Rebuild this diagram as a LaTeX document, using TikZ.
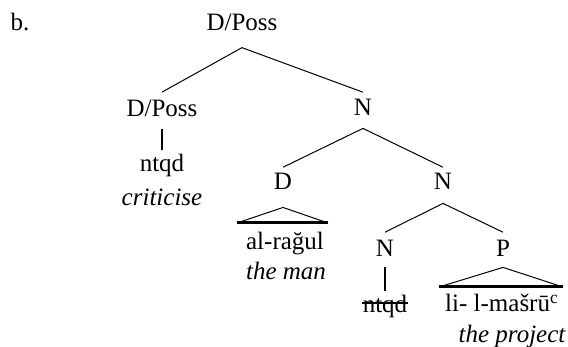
\documentclass[tikz,border=0pt]{standalone}
\usepackage{fontspec}
\setmainfont{Liberation Serif}
\begin{document}
\begin{tikzpicture}[x=0.5pt,y=-0.5pt,
  lab/.style={anchor=base,inner sep=0pt,font=\fontsize{12.5pt}{15pt}\selectfont},
  gl/.style={lab,font=\fontsize{12.5pt}{15pt}\selectfont\itshape},
  branch/.style={line width=0.5pt},
  thick line/.style={line width=1.2pt},
  tribase/.style={line width=1.5pt}]
\useasboundingbox (0,0) rectangle (568,347);
% nodes
\node[lab] (b) at (20,31) {b.};
\node[lab] (root) at (242,31) {D/Poss};
\node[lab] (L) at (162,117) {D/Poss};
\node[lab] (N2) at (363,116) {N};
\node[lab] (ntqdA) at (162,172) {ntqd};
\node[gl] (crit) at (162,206) {criticise};
\node[lab] (D) at (283,190) {D};
\node[lab] (N3) at (443,190) {N};
\node[lab] (ragul) at (285,250) {al-rağul};
\node[gl] (man) at (286,280) {the man};
\node[lab] (N4) at (385,257) {N};
\node[lab] (P) at (503,257) {P};
\node[lab] (ntqdB) at (385,313) {ntqd};
\node[lab] (masru) at (502,312) {li- l-mašrū\textsuperscript{c}};
\node[gl] (proj) at (512,343) {the project};
% branches
\draw[branch] ([yshift=-8pt]root.south) -- ([yshift=4pt]L.north);
\draw[branch] ([yshift=-8pt]root.south) -- ([yshift=3.5pt]N2.north);
\draw[branch] ([yshift=-6pt]N2.south) -- ([yshift=3pt]D.north);
\draw[branch] ([yshift=-6pt]N2.south) -- ([yshift=3pt]N3.north);
\draw[branch] ([yshift=-6.5pt]N3.south) -- ([yshift=4pt]N4.north);
\draw[branch] ([yshift=-6.5pt]N3.south) -- ([yshift=4pt]P.north);
% unary lines
\draw[thick line] ([yshift=-5.5pt]L.south) -- ([yshift=2pt]ntqdA.north);
\draw[thick line] ([yshift=-5pt]N4.south) -- ([yshift=2pt]ntqdB.north);
% triangles
\coordinate (Dl) at (237,223);
\coordinate (Dr) at (328,223);
\draw[branch] (Dl) -- ([yshift=-8.5pt]D.south) -- (Dr);
\draw[tribase] (Dl) -- (Dr);
\coordinate (Pl) at (439,287);
\coordinate (Pr) at (563,287);
\draw[branch] (Pl) -- ([yshift=-5pt]P.south) -- (Pr);
\draw[tribase] (Pl) -- (Pr);
% strike-through
\draw[line width=0.8pt] ([yshift=5pt]ntqdB.base west) -- ([yshift=5pt]ntqdB.base east);
\end{tikzpicture}
\end{document}
